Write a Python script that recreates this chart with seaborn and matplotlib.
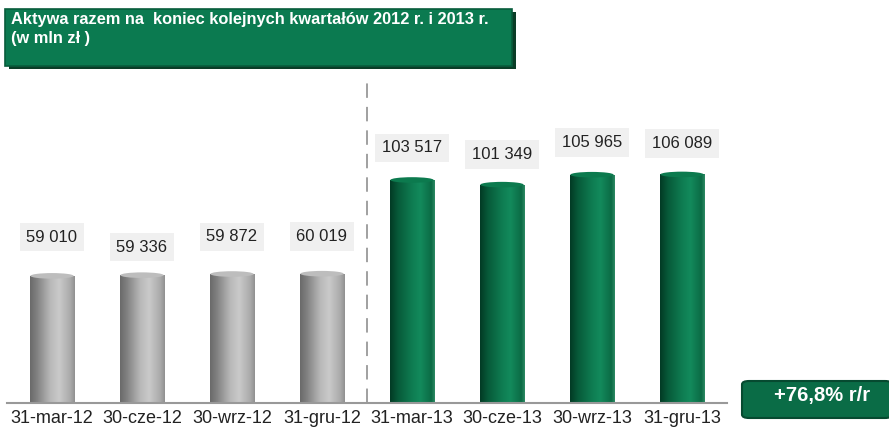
import numpy as np
import pandas as pd
import matplotlib
matplotlib.use('Agg')
import matplotlib.pyplot as plt
import seaborn as sns
from matplotlib.colors import LinearSegmentedColormap
from matplotlib.patches import Rectangle, Ellipse, FancyBboxPatch

# dane: aktywa razem (mln zł)
quarters = ['31-mar-12', '30-cze-12', '30-wrz-12', '31-gru-12',
            '31-mar-13', '30-cze-13', '30-wrz-13', '31-gru-13']
assets = [59010, 59336, 59872, 60019, 103517, 101349, 105965, 106089]
years = ['2012', '2012', '2012', '2012', '2013', '2013', '2013', '2013']
value_labels = ['59 010', '59 336', '59 872', '60 019',
                '103 517', '101 349', '105 965', '106 089']
title = 'Aktywa razem na  koniec kolejnych kwartałów 2012 r. i 2013 r.\n(w mln zł )'
badge = '+76,8% r/r'

# przesunięcie etykiet nad słupkami
label_offset = [18000, 13000, 17300, 17200, 15000, 14000, 15000, 14400]

df = pd.DataFrame({'kwartal': quarters, 'aktywa': assets, 'rok': years})

sns.set_style('white')
plt.rcParams['font.family'] = ['Liberation Sans', 'DejaVu Sans']

fig = plt.figure(figsize=(8.89, 4.30), dpi=100)
ax = fig.add_axes([7 / 889, 27 / 430, 720 / 889, 321 / 430])

sns.barplot(data=df, x='kwartal', y='aktywa', hue='rok',
            palette={'2012': '#a8a8a8', '2013': '#0b7048'},
            width=0.49, dodge=False, legend=False, ax=ax)

grey_cmap = LinearSegmentedColormap.from_list('g', [
    (0.0, '#6a6a6a'), (0.15, '#808080'), (0.45, '#b8b8b8'),
    (0.65, '#cacaca'), (0.9, '#aaaaaa'), (1.0, '#909090')])
green_cmap = LinearSegmentedColormap.from_list('z', [
    (0.0, '#023a24'), (0.18, '#075a39'), (0.5, '#0f7d52'),
    (0.68, '#138a5c'), (0.92, '#0b6b45'), (1.0, '#2e8a65')])

grad = np.linspace(0, 1, 256).reshape(1, -1)
cap_h = 2600
for bar, yr in zip(ax.patches, years):
    x0, w, h = bar.get_x(), bar.get_width(), bar.get_height()
    cmap = grey_cmap if yr == '2012' else green_cmap
    bar.set_facecolor('none')
    bar.set_edgecolor('none')
    im = ax.imshow(grad, cmap=cmap, aspect='auto', extent=(x0, x0 + w, 0, h),
                   zorder=2, interpolation='bilinear')
    im.set_clip_path(bar)
    cap_col = '#bdbdbd' if yr == '2012' else '#0c7a4e'
    ax.add_patch(Ellipse((x0 + w / 2, h), w * 0.98, cap_h, facecolor=cap_col,
                         edgecolor='none', zorder=3))

for i, (v, lab, off) in enumerate(zip(assets, value_labels, label_offset)):
    ax.text(i, v + off, lab, ha='center', va='center', fontsize=12, color='#222222',
            bbox=dict(boxstyle='square,pad=0.4', facecolor='#f0f0f0', edgecolor='none'))

ax.set_xlim(-0.5, 7.5)
ax.set_ylim(0, 149000)
ax.axvline(3.5, color='#999999', linewidth=1.3, dashes=(8, 5), zorder=1)

for s in ['left', 'right', 'top']:
    ax.spines[s].set_visible(False)
ax.spines['bottom'].set_color('#999999')
ax.spines['bottom'].set_linewidth(1.5)
ax.set_yticks([])
ax.set_xlabel('')
ax.set_ylabel('')
ax.set_xticks(np.arange(-0.5, 8, 1), minor=True)
ax.tick_params(axis='x', which='major', length=0, labelsize=13, labelcolor='#222222', pad=5)
ax.tick_params(axis='x', which='minor', length=5, width=1.2, color='#999999', direction='out')

# nagłówek
fig.patches.append(Rectangle((9 / 889, 1 - 69 / 430), 507 / 889, 57 / 430,
                             transform=fig.transFigure, facecolor='#0a3d27',
                             edgecolor='none', zorder=0))
fig.patches.append(Rectangle((5 / 889, 1 - 66 / 430), 507 / 889, 57 / 430,
                             transform=fig.transFigure, facecolor='#0b7a50',
                             edgecolor='#085c3c', linewidth=1.2, zorder=1))
fig.text(11 / 889, 1 - 12 / 430, title, ha='left', va='top', fontsize=11.8,
         fontweight='bold', color='white', linespacing=1.3)

# plakietka
fig.patches.append(FancyBboxPatch((742 / 889, 1 - 418 / 430), 150 / 889, 37 / 430,
                                  boxstyle='round,pad=0,rounding_size=0.008',
                                  transform=fig.transFigure, facecolor='#0a6c46',
                                  edgecolor='#064a30', linewidth=1.5))
fig.text(822 / 889, 1 - 395 / 430, badge, ha='center', va='center', fontsize=14.5,
         fontweight='bold', color='white')

fig.savefig('out.png', dpi=100)
